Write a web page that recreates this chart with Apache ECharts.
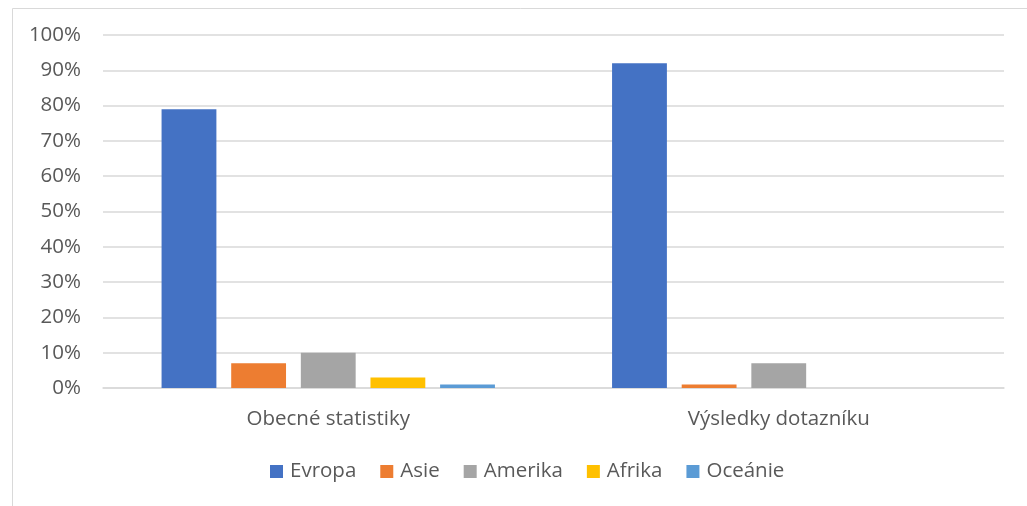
<!DOCTYPE html>
<html><head><meta charset="utf-8">
<script src="https://cdn.jsdelivr.net/npm/echarts@6/dist/echarts.min.js"></script>
<style>html,body{margin:0;padding:0;background:#fff}#c{width:1027px;height:506px}</style>
</head><body><div id="c"></div>
<script>
const categories = ['Obecné statistiky', 'Výsledky dotazníku'];
const seriesNames = ['Evropa', 'Asie', 'Amerika', 'Afrika', 'Oceánie'];
const evropa = [79, 92];
const asie = [7, 1];
const amerika = [10, 7];
const afrika = [3, 0];
const oceanie = [1, 0];
const colors = ['#4472C4', '#ED7D31', '#A5A5A5', '#FFC000', '#5B9BD5'];
const values = [evropa, asie, amerika, afrika, oceanie];
const font = '"Open Sans", sans-serif';
const fs = 20.5;
const chart = echarts.init(document.getElementById('c'));
chart.setOption({
  animation: false,
  color: colors,
  graphic: [{type: 'rect', left: 10, top: 6, shape: {width: 1040, height: 520}, style: {fill: 'none', stroke: '#d9d9d9', lineWidth: 1}}],
  grid: {left: 103, right: 23, top: 35, bottom: 118},
  legend: {
    bottom: 19, left: 265, itemWidth: 13, itemHeight: 13, itemGap: 24,
    icon: 'rect',
    textStyle: {fontFamily: font, fontSize: fs, color: '#595959', padding: [0, 0, 0, 2]},
    data: seriesNames
  },
  xAxis: {
    type: 'category', data: categories,
    axisLine: {lineStyle: {color: '#d9d9d9', width: 1.5}},
    axisTick: {show: false},
    axisLabel: {fontFamily: font, fontSize: fs, color: '#595959', margin: 21}
  },
  yAxis: {
    type: 'value', min: 0, max: 100, interval: 10,
    axisLine: {show: false}, axisTick: {show: false},
    splitLine: {lineStyle: {color: '#d9d9d9', width: 1.5}},
    axisLabel: {fontFamily: font, fontSize: fs, color: '#595959', margin: 22, formatter: '{value}%'}
  },
  series: seriesNames.map((n, i) => ({
    name: n, type: 'bar', data: values[i],
    barGap: '27%', barCategoryGap: '26%'
  }))
});
</script></body></html>
